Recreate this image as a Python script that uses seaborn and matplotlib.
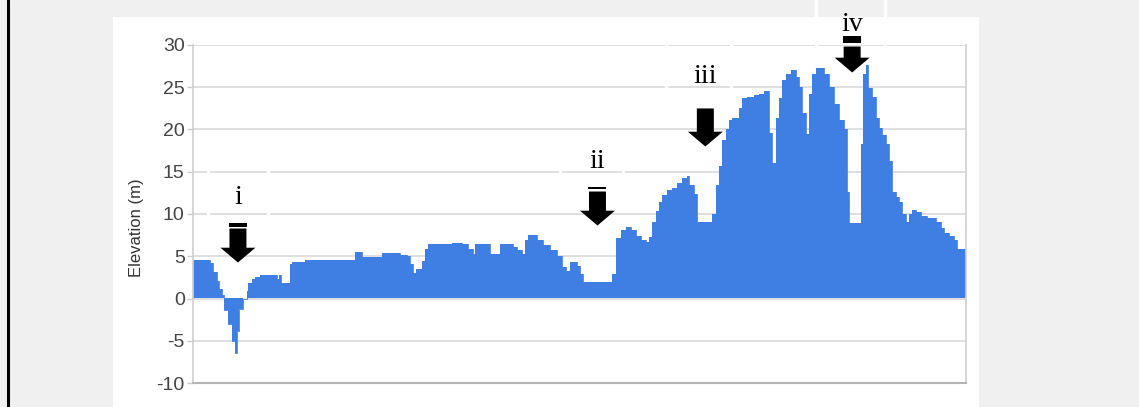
import matplotlib
matplotlib.use('Agg')
import matplotlib.pyplot as plt
from matplotlib.patches import Rectangle, FancyArrow
from matplotlib.lines import Line2D
import pandas as pd
import seaborn as sns

# --- Data (distance along section, elevation in m) ---
DISTANCE = [0, 17, 20, 24, 26, 29, 31, 35, 39, 42, 44, 46, 50, 54, 55, 59, 62, 67,
            84, 86, 88, 97, 99, 112, 130, 134, 162, 169, 189, 207, 214, 217, 220, 223,
            229, 232, 235, 240, 259, 269, 275, 280, 282, 297, 307, 320, 324, 329, 332,
            335, 344, 350, 357, 364, 369, 373, 377, 384, 388, 391, 420, 424, 429, 434,
            439, 444, 449, 454, 457, 460, 464, 467, 470, 475, 480, 485, 490, 495, 497,
            502, 505, 520, 524, 527, 530, 534, 537, 540, 547, 550, 555, 562, 567, 572,
            577, 580, 584, 587, 590, 594, 599, 604, 607, 610, 614, 617, 620, 624, 632,
            637, 642, 647, 652, 655, 657, 669, 671, 674, 676, 680, 684, 687, 690, 694,
            697, 700, 704, 707, 710, 714, 717, 720, 724, 729, 735, 744, 749, 752, 757,
            762, 765]
ELEVATION = [4.6, 4.2, 3.1, 2.1, 1.1, 0.4, -1.4, -3.0, -5.0, -6.4, -3.8, -1.2, 0.0, 0.9,
             1.8, 2.3, 2.6, 2.8, 2.3, 2.8, 1.8, 4.1, 4.3, 4.6, 4.5, 4.6, 5.5, 4.9, 5.4,
             5.2, 5.0, 4.1, 3.0, 3.5, 4.4, 5.9, 6.5, 6.4, 6.6, 6.4, 5.9, 5.3, 6.5, 5.3,
             6.5, 6.1, 5.7, 5.3, 6.9, 7.5, 6.9, 6.3, 5.7, 5.0, 3.7, 3.3, 4.3, 3.8, 2.9,
             1.9, 2.9, 7.2, 8.1, 8.5, 8.1, 7.4, 6.9, 6.7, 7.3, 9.0, 10.4, 11.4, 12.2,
             12.8, 13.1, 13.7, 14.3, 14.5, 13.4, 12.4, 9.0, 10.0, 13.4, 15.7, 18.7, 20.1,
             21.1, 21.4, 22.5, 23.7, 23.9, 24.1, 24.2, 24.5, 19.6, 16.0, 21.4, 23.7,
             25.8, 26.6, 27.0, 26.2, 25.0, 22.0, 19.5, 24.2, 26.6, 27.3, 26.6, 25.0,
             23.0, 21.1, 20.1, 12.6, 8.9, 18.3, 26.6, 27.6, 24.9, 23.8, 21.4, 20.2, 19.3,
             18.3, 16.3, 12.6, 12.0, 11.4, 10.0, 9.0, 10.0, 10.5, 10.2, 9.8, 9.5, 9.0,
             8.4, 7.8, 7.4, 6.9, 5.8]
PROFILE_END = 774

Y_TICKS = [-10, -5, 0, 5, 10, 15, 20, 25, 30]
Y_LABEL = "Elevation (m)"

# arrow markers: label, distance, tip, shaft top, overline (lo, hi), text baseline, box (x0, x1, y0, y1)
MARKER_LABELS = ["i", "ii", "iii", "iv"]
MARKER_X = [45, 405, 513, 660]
MARKER_TIP = [4.26, 8.64, 17.99, 26.75]
MARKER_TOP = [8.28, 12.66, 22.49, 29.82]
MARKER_BAR = [(8.52, 8.88), (12.9, 13.25), None, (30.18, 31.12)]
MARKER_TEXT_Y = [11.24, 15.4, 25.56, 31.7]
MARKER_BOX = [(15, 75, 8, 16), (367, 431, 11, 19), (474, 539, 22.5, 32.5), (624, 693, 29.4, 36)]

FILL = '#3f7fe3'


def main():
    sns.set_style('whitegrid')
    plt.rcParams['font.family'] = ['Liberation Sans', 'DejaVu Sans']
    plt.rcParams['axes.unicode_minus'] = False

    W, H = 1139, 407
    fig = plt.figure(figsize=(W / 100, H / 100), dpi=100, facecolor='#f0f0f0')
    # white panel behind the chart and the black page border
    fig.add_artist(Rectangle((113 / W, 0), 866 / W, 390 / H, transform=fig.transFigure,
                             facecolor='white', edgecolor='none', zorder=0))
    fig.add_artist(Line2D([7.5 / W, 7.5 / W], [0, 1], transform=fig.transFigure,
                          color='black', lw=2.2))

    ax = fig.add_axes([193 / W, 1 - 383 / H, 773 / W, 338 / H])
    ax.set_facecolor('white')

    df = pd.DataFrame({'distance': DISTANCE + [PROFILE_END],
                       'elevation': ELEVATION + [ELEVATION[-1]]})
    ax.fill_between(df['distance'], df['elevation'], 0, step='post',
                    color=FILL, lw=0, zorder=2)
    sns.lineplot(data=df, x='distance', y='elevation', drawstyle='steps-post',
                 color=FILL, lw=0.6, estimator=None, ax=ax, zorder=2)

    ax.set_xlim(0, PROFILE_END)
    ax.set_ylim(-10, 30)
    ax.set_yticks(Y_TICKS)
    ax.set_xticks([])
    ax.set_xlabel('')
    ax.set_ylabel(Y_LABEL, fontsize=12, color='#333333')
    ax.yaxis.set_label_coords(-0.063, 0.46)
    ax.grid(axis='y', color='#d9d9d9', lw=1.2)
    ax.grid(axis='x', visible=False)
    ax.tick_params(axis='y', left=True, length=4, width=1, color='#cccccc', pad=2,
                   labelsize=14, labelcolor='#444444')
    for side in ['left', 'right']:
        ax.spines[side].set_color('#cfcfcf')
        ax.spines[side].set_linewidth(1.2)
    ax.spines['top'].set_visible(False)
    ax.spines['bottom'].set_color('#b5b5b5')
    ax.spines['bottom'].set_linewidth(1.5)

    # arrow markers with roman numerals
    for lab, x, tip, top, bar, ty, box in zip(MARKER_LABELS, MARKER_X, MARKER_TIP, MARKER_TOP,
                                              MARKER_BAR, MARKER_TEXT_Y, MARKER_BOX):
        x0, x1, y0, y1 = box
        ax.add_patch(Rectangle((x0, y0), x1 - x0, y1 - y0, fill=False, edgecolor='white',
                               lw=2.5, zorder=1.5, clip_on=False))
        ax.add_patch(FancyArrow(x, top, 0, tip - top, width=17, head_width=35,
                                head_length=1.75, length_includes_head=True,
                                color='black', lw=0, zorder=4, clip_on=False))
        if bar is not None:
            ax.add_patch(Rectangle((x - 9, bar[0]), 18, bar[1] - bar[0], color='black',
                                   lw=0, zorder=4, clip_on=False))
        ax.text(x, ty, lab, ha='center', va='baseline', fontsize=20,
                family=['Liberation Serif', 'DejaVu Serif'], color='black',
                zorder=5, clip_on=False)

    plt.savefig('out.png', dpi=100, facecolor=fig.get_facecolor())
    plt.close()


if __name__ == "__main__":
    main()
